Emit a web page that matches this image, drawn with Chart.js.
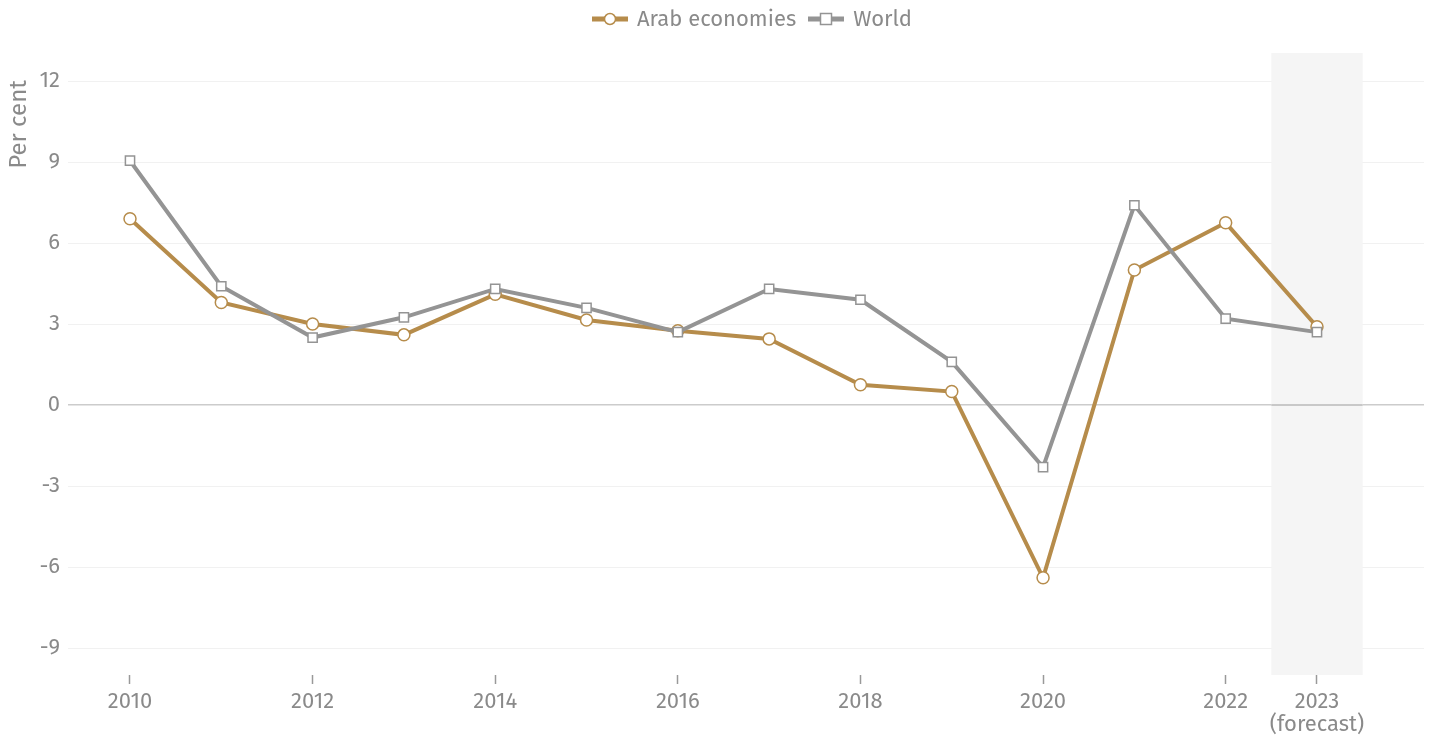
<!DOCTYPE html>
<html><head><meta charset="utf-8">
<script src="https://cdn.jsdelivr.net/npm/chart.js@4"></script>
<style>
html,body{margin:0;padding:0;background:#fff;}
#wrap{position:relative;width:1434px;height:742px;}
#legend{position:absolute;top:6px;left:35px;width:1434px;text-align:center;font-family:"Fira Sans","Open Sans",sans-serif;font-size:22px;line-height:26px;color:#8a8a8a;}
#legend span.item{display:inline-flex;align-items:center;margin:0 6px;}
#legend canvas{margin-right:9px;}
</style>
</head><body>
<div id="wrap">
<canvas id="c" width="1434" height="742"></canvas>
<div id="legend"></div>
</div>
<script>
const years = [2010,2011,2012,2013,2014,2015,2016,2017,2018,2019,2020,2021,2022,2023];
const arabEconomies = [6.9,3.8,3.0,2.6,4.1,3.15,2.75,2.45,0.75,0.5,-6.4,5.0,6.75,2.9];
const world = [9.05,4.4,2.5,3.25,4.3,3.6,2.7,4.3,3.9,1.6,-2.3,7.4,3.2,2.7];
const xTickYears = [2010,2012,2014,2016,2018,2020,2022,2023];
const yTickValues = [-9,-6,-3,0,3,6,9,12];
const forecastYear = 2023;
const seriesNames = ['Arab economies','World'];
const colArab = '#b68c4b', colWorld = '#949494';
const FONT = '"Fira Sans","Open Sans",sans-serif';

const bandPlugin = {
  id:'band',
  beforeDatasetsDraw(chart){
    const {ctx, chartArea, scales:{x,y}} = chart;
    const l = x.getPixelForValue(forecastYear-0.5), r = x.getPixelForValue(forecastYear+0.5);
    ctx.save(); ctx.fillStyle='#f5f5f5';
    ctx.fillRect(l, chartArea.top, r-l, chartArea.bottom-chartArea.top);
    const z = y.getPixelForValue(0);
    ctx.strokeStyle='#c8c8c8'; ctx.lineWidth=2;
    ctx.beginPath(); ctx.moveTo(l,z); ctx.lineTo(r,z); ctx.stroke();
    ctx.restore();
  },
  afterDraw(chart){
    const {ctx, scales:{y}} = chart;
    ctx.save();
    ctx.translate(19, y.getPixelForValue(12)-1);
    ctx.rotate(-Math.PI/2);
    ctx.font = '24px '+FONT; ctx.fillStyle='#8a8a8a';
    ctx.textAlign='right'; ctx.textBaseline='middle';
    ctx.fillText('Per cent',0,0);
    ctx.restore();
  }
};

new Chart(document.getElementById('c'), {
  type:'line',
  data:{datasets:[
    {label:seriesNames[0], data:years.map((y,i)=>({x:y,y:arabEconomies[i]})), borderColor:colArab, backgroundColor:'#fff', borderWidth:4, pointStyle:'circle', pointRadius:6, pointBorderWidth:1.5, pointBorderColor:colArab, pointBackgroundColor:'#fff', tension:0, order:2},
    {label:seriesNames[1], data:years.map((y,i)=>({x:y,y:world[i]})), borderColor:colWorld, backgroundColor:'#fff', borderWidth:4, pointStyle:'rect', pointRadius:6.5, pointBorderWidth:1.5, pointBorderColor:colWorld, pointBackgroundColor:'#fff', tension:0, order:1}
  ]},
  options:{
    responsive:false, animation:false, devicePixelRatio:1,
    layout:{padding:{top:53,right:10,left:0,bottom:0}},
    plugins:{legend:{display:false}, tooltip:{enabled:false}},
    scales:{
      x:{type:'linear', min:2009.321, max:2024.172,
        afterBuildTicks(s){ s.ticks = xTickYears.map(v=>({value:v})); },
        afterFit(s){ s.height = 67; },
        border:{display:false},
        grid:{drawOnChartArea:false, drawTicks:true, tickLength:9, tickColor:'#999', tickWidth:1.5},
        ticks:{padding:6, color:'#8a8a8a', font:{family:FONT,size:22, lineHeight:1.05}, maxRotation:0, autoSkip:false,
          callback:(v)=> v===forecastYear ? [String(v),'(forecast)'] : String(v)}
      },
      y:{min:-10, max:13.04,
        afterBuildTicks(s){ s.ticks = yTickValues.map(v=>({value:v})); },
        afterFit(s){ s.width = 68; },
        border:{display:false},
        grid:{drawTicks:false, color:(c)=> c.tick && c.tick.value===0 ? '#cccccc' : '#f1f1f1', lineWidth:(c)=> c.tick && c.tick.value===0 ? 1.5 : 1},
        ticks:{padding:8, color:'#8a8a8a', font:{family:FONT,size:22}}
      }
    }
  },
  plugins:[bandPlugin]
});

// HTML legend
const leg = document.getElementById('legend');
[[seriesNames[0],colArab,'circle'],[seriesNames[1],colWorld,'rect']].forEach(([name,col,shape])=>{
  const sp = document.createElement('span'); sp.className='item';
  const cv = document.createElement('canvas'); cv.width=36; cv.height=20;
  const g = cv.getContext('2d');
  g.strokeStyle=col; g.lineWidth=5; g.beginPath(); g.moveTo(0,10); g.lineTo(36,10); g.stroke();
  g.fillStyle='#fff'; g.lineWidth=1.5;
  if(shape==='circle'){ g.beginPath(); g.arc(18,10,5.5,0,Math.PI*2); g.fill(); g.stroke(); }
  else { g.fillRect(12.5,4.5,11,11); g.strokeRect(12.5,4.5,11,11); }
  sp.appendChild(cv);
  const t = document.createElement('span'); t.textContent=name; sp.appendChild(t);
  leg.appendChild(sp);
});
</script>
</body></html>
